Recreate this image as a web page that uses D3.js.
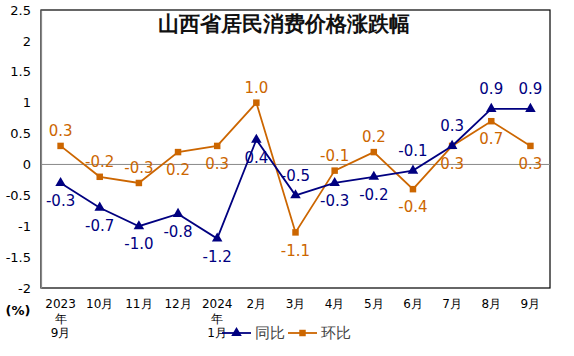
<!DOCTYPE html>
<html><head><meta charset="utf-8">
<script src="https://cdn.jsdelivr.net/npm/d3@7"></script>
<style>body{margin:0;background:#fff;}svg{display:block;font-family:"DejaVu Sans",sans-serif;}</style>
</head><body>
<svg id="c" width="574" height="356"></svg>
<script>
const title = "山西省居民消费价格涨跌幅";
const categories = ["2023年9月","10月","11月","12月","2024年1月","2月","3月","4月","5月","6月","7月","8月","9月"];
const yoy = [-0.3,-0.7,-1.0,-0.8,-1.2,0.4,-0.5,-0.3,-0.2,-0.1,0.3,0.9,0.9];
const mom = [0.3,-0.2,-0.3,0.2,0.3,1.0,-1.1,-0.1,0.2,-0.4,0.3,0.7,0.3];
const yoyLabelSide = ["b","b","b","b","b","b","a","b","b","a","a","a","a"];
const momLabelSide = ["a","a","a","b","b","a","b","a","a","b","b","b","b"];
const yTicks = [-2,-1.5,-1,-0.5,0,0.5,1,1.5,2,2.5];
const seriesNames = ["同比","环比"];

const svg = d3.select("#c");
const L=41,R=550,T=10,B=288;
const x = d3.scalePoint().domain(categories).range([L,R]).padding(0.5);
const y = d3.scaleLinear().domain([-2,2.5]).range([B,T]);
const navy="#000080", orange="#CC6600";

// frame
svg.append("rect").attr("x",L).attr("y",T).attr("width",R-L).attr("height",B-T)
  .attr("fill","none").attr("stroke","#000").attr("stroke-width",1.2);
// zero line
svg.append("line").attr("x1",L).attr("x2",R).attr("y1",y(0)).attr("y2",y(0)).attr("stroke","#888").attr("stroke-width",1);
// left axis
const ya = d3.axisLeft(y).tickValues(yTicks).tickSize(0).tickPadding(10).tickFormat(d=>String(d));
const gy = svg.append("g").attr("transform",`translate(${L},0)`).call(ya);
gy.select(".domain").attr("stroke","#888").attr("stroke-width",1.2);
gy.selectAll("text").attr("font-size",13).attr("fill","#000").attr("font-family","DejaVu Sans");

// x axis labels
const xa = d3.axisBottom(x).tickSize(0).tickFormat("");
const gx = svg.append("g").attr("transform",`translate(0,${B})`).call(xa);
gx.select(".domain").remove();
categories.forEach(c=>{
  const m = c.match(/^(\d{4})(年)(.+)$/);
  const lines = m ? [m[1],m[2],m[3]] : [c];
  const t = svg.append("text").attr("x",x(c)).attr("y",B+20).attr("text-anchor","middle")
    .attr("font-size",12).attr("fill","#000");
  lines.forEach((ln,i)=>t.append("tspan").attr("x",x(c)).attr("dy",i===0?0:14.5).text(ln));
});
svg.append("text").attr("x",18).attr("y",315).attr("text-anchor","middle").attr("font-size",13)
  .attr("font-weight","bold").text("(%)");

// title
svg.append("text").attr("x",284).attr("y",31).attr("text-anchor","middle").attr("font-size",21)
  .attr("font-weight","bold").attr("fill","#111").text(title);

const line = d3.line().x((d,i)=>x(categories[i])).y(d=>y(d));
function series(vals,color,shape,sides,upOff,downOff){
  svg.append("path").datum(vals).attr("d",line).attr("fill","none").attr("stroke",color).attr("stroke-width",1.8);
  svg.selectAll(null).data(vals).enter().append("path")
    .attr("transform",(d,i)=>`translate(${x(categories[i])},${y(d)})`)
    .attr("d",d3.symbol().type(shape).size(shape===d3.symbolTriangle?48:42)).attr("fill",color);
  svg.selectAll(null).data(vals).enter().append("text")
    .attr("x",(d,i)=>x(categories[i]))
    .attr("y",(d,i)=>y(d)+(sides[i]==="a"?upOff:downOff))
    .attr("dy","0.35em").attr("text-anchor","middle").attr("font-size",15).attr("fill",color)
    .text(d=>d.toFixed(1));
}
series(mom,orange,d3.symbolSquare,momLabelSide,-15,18);
series(yoy,navy,d3.symbolTriangle,yoyLabelSide,-20,18);

// legend
const lg = svg.append("g");
const items=[{n:seriesNames[0],c:navy,s:d3.symbolTriangle,x:222},{n:seriesNames[1],c:orange,s:d3.symbolSquare,x:288}];
items.forEach(it=>{
  lg.append("line").attr("x1",it.x).attr("x2",it.x+29).attr("y1",333).attr("y2",333).attr("stroke",it.c).attr("stroke-width",1.8);
  lg.append("path").attr("transform",`translate(${it.x+14.5},333)`).attr("d",d3.symbol().type(it.s).size(it.s===d3.symbolTriangle?48:42)).attr("fill",it.c);
  lg.append("text").attr("x",it.x+33).attr("y",333).attr("dy","0.35em").attr("font-size",15).attr("fill","#444").text(it.n);
});
</script>
</body></html>
